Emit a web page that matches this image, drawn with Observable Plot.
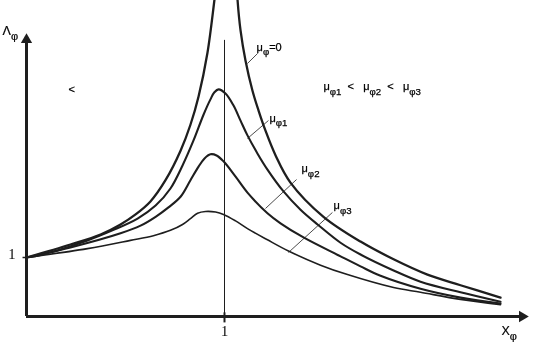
<!DOCTYPE html>
<html>
<head>
<meta charset="utf-8">
<script src="https://cdn.jsdelivr.net/npm/d3@7"></script>
<script src="https://cdn.jsdelivr.net/npm/@observablehq/plot@0.6"></script>
<style>
  html, body { margin: 0; padding: 0; background: #fff; }
  #chart { will-change: transform; background: transparent; width: 537px; height: 360px; }
  #chart svg { background: transparent !important; }
  svg text { white-space: pre; }
</style>
</head>
<body>
<div id="chart"></div>
<script>
// ---- data (X in units of the "1" tick, Y in units of the "1" tick)
const mu0LeftX  = [0, 0.222, 0.374, 0.475, 0.551, 0.626, 0.702, 0.778, 0.828, 0.869, 0.914, 0.949, 0.965];
const mu0LeftY  = [1.0, 1.22, 1.39, 1.56, 1.73, 1.95, 2.31, 2.81, 3.25, 3.73, 4.47, 5.36, 5.80];
const mu0RightX = [1.061, 1.066, 1.081, 1.106, 1.141, 1.172, 1.207, 1.258, 1.333, 1.500, 1.687, 1.854, 2.025, 2.192, 2.394];
const mu0RightY = [5.70, 5.36, 4.85, 4.34, 3.83, 3.49, 3.15, 2.73, 2.27, 1.69, 1.27, 0.97, 0.71, 0.53, 0.32];
const mu1X = [0, 0.056, 0.308, 0.434, 0.561, 0.652, 0.727, 0.788, 0.843, 0.894, 0.929, 0.949, 0.970, 1.005, 1.045, 1.081, 1.116, 1.167, 1.217, 1.298, 1.384, 1.470, 1.586, 1.687, 1.854, 1.990, 2.192, 2.394];
const mu1Y = [1.0, 1.03, 1.29, 1.46, 1.66, 1.88, 2.17, 2.56, 2.98, 3.42, 3.68, 3.80, 3.85, 3.78, 3.58, 3.32, 3.07, 2.76, 2.49, 2.12, 1.81, 1.56, 1.25, 1.05, 0.78, 0.59, 0.41, 0.25];
const mu2X = [0, 0.222, 0.475, 0.576, 0.652, 0.717, 0.778, 0.828, 0.869, 0.899, 0.929, 0.960, 0.995, 1.056, 1.116, 1.217, 1.283, 1.399, 1.586, 1.687, 1.788, 1.990, 2.192, 2.394];
const mu2Y = [1.0, 1.17, 1.41, 1.54, 1.69, 1.85, 2.03, 2.31, 2.54, 2.68, 2.75, 2.73, 2.63, 2.37, 2.10, 1.75, 1.58, 1.34, 1.02, 0.85, 0.69, 0.47, 0.32, 0.22];
const mu3X = [0, 0.308, 0.525, 0.641, 0.727, 0.788, 0.828, 0.864, 0.904, 0.955, 0.995, 1.056, 1.116, 1.217, 1.323, 1.485, 1.621, 1.854, 1.990, 2.192, 2.394];
const mu3Y = [1.0, 1.15, 1.29, 1.37, 1.46, 1.56, 1.66, 1.75, 1.78, 1.77, 1.73, 1.62, 1.49, 1.30, 1.11, 0.87, 0.71, 0.49, 0.41, 0.29, 0.20];

const curveLabels = [
  {x: 1.162, y: 4.508, t: "μ_{φ}=0"},
  {x: 1.227, y: 3.305, t: "μ_{φ1}"},
  {x: 1.389, y: 2.441, t: "μ_{φ2}"},
  {x: 1.551, y: 1.814, t: "μ_{φ3}"},
  {x: 1.500, y: 3.831, t: "μ_{φ1}\u00a0\u00a0<\u00a0\u00a0\u00a0μ_{φ2}\u00a0\u00a0<\u00a0\u00a0\u00a0μ_{φ3}"},
  {x: 0.212, y: 3.780, t: "<"}
];
const axisNames = [
  {x: -0.121, y: 4.763, t: "Λ_{φ}"},
  {x: 2.399, y: -0.322, t: "X_{φ}"}
];
const leaders = [
  {x1: 1.116, y1: 4.288, x2: 1.167, y2: 4.458},
  {x1: 1.116, y1: 3.017, x2: 1.222, y2: 3.322},
  {x1: 1.207, y1: 1.831, x2: 1.364, y2: 2.322},
  {x1: 1.323, y1: 1.085, x2: 1.545, y2: 1.763}
];
const tickValue = [1];
const xAxisEnd = 2.49, xArrowCentre = 2.504;
const yAxisEnd = 4.63, yArrowCentre = 4.692;
const refLineTop = 4.68;

const toRows = (xs, ys) => xs.map((x, i) => ({x, y: ys[i]}));
const ink = "#1e1e1e";
const textInk = "#000";
const curve = "catmull-rom";

const chart = Plot.plot({
  width: 537,
  height: 360,
  marginLeft: 26,
  marginRight: 0,
  marginTop: 0,
  marginBottom: 44,
  x: {domain: [0, 511 / 198], axis: null},
  y: {domain: [0, 316 / 59], axis: null},
  style: {background: "transparent", fontFamily: "'Liberation Sans', Arial, sans-serif", overflow: "visible"},
  marks: [
    // reference vertical line at X = 1
    Plot.ruleX(tickValue, {y1: 0, y2: refLineTop, stroke: ink, strokeWidth: 1}),
    // curves
    Plot.line(toRows(mu3X, mu3Y), {x: "x", y: "y", curve, stroke: ink, strokeWidth: 1.6, clip: true}),
    Plot.line(toRows(mu2X, mu2Y), {x: "x", y: "y", curve, stroke: ink, strokeWidth: 2.1, clip: true}),
    Plot.line(toRows(mu1X, mu1Y), {x: "x", y: "y", curve, stroke: ink, strokeWidth: 2.1, clip: true}),
    Plot.line(toRows(mu0LeftX, mu0LeftY), {x: "x", y: "y", curve, stroke: ink, strokeWidth: 2.3, clip: true}),
    Plot.line(toRows(mu0RightX, mu0RightY), {x: "x", y: "y", curve, stroke: ink, strokeWidth: 2.3, clip: true}),
    // leader lines
    Plot.link(leaders, {x1: "x1", y1: "y1", x2: "x2", y2: "y2", stroke: ink, strokeWidth: 0.8}),
    // axes
    Plot.ruleY([0], {x1: 0, x2: xAxisEnd, stroke: ink, strokeWidth: 3}),
    Plot.ruleX([0], {y1: 0, y2: yAxisEnd, stroke: ink, strokeWidth: 3}),
    Plot.dot([{x: 0, y: yArrowCentre}], {x: "x", y: "y", symbol: "triangle", r: 4.2, fill: ink, stroke: null}),
    Plot.dot([{x: xArrowCentre, y: 0}], {x: "x", y: "y", symbol: "triangle", r: 4.2, rotate: 90, fill: ink, stroke: null}),
    // ticks
    Plot.link(tickValue.map(v => ({v})), {x1: "v", x2: "v", y1: 0.07, y2: -0.1, stroke: ink, strokeWidth: 2}),
    Plot.link(tickValue.map(v => ({v})), {x1: -0.02, x2: 0, y1: "v", y2: "v", stroke: ink, strokeWidth: 1.5}),
    Plot.text(tickValue.map(v => ({v})), {x: 0, y: "v", text: d => String(d.v), dx: -11, dy: 1, textAnchor: "end", lineAnchor: "bottom", fontFamily: "'Liberation Serif', 'Times New Roman', serif", fontSize: 14.5, fill: textInk}),
    Plot.text(tickValue.map(v => ({v})), {x: "v", y: 0, text: d => String(d.v), dy: 9, textAnchor: "middle", lineAnchor: "top", fontFamily: "'Liberation Serif', 'Times New Roman', serif", fontSize: 14.5, fill: textInk}),
    // labels
    Plot.text(curveLabels, {x: "x", y: "y", text: "t", textAnchor: "start", lineAnchor: "bottom", fontSize: 11, fill: textInk, stroke: textInk, strokeWidth: 0.25}),
    Plot.text(axisNames, {x: "x", y: "y", text: "t", textAnchor: "start", lineAnchor: "bottom", fontSize: 12.5, fill: textInk, stroke: textInk, strokeWidth: 0.2})
  ]
});

// turn "_{...}" into lowered, smaller tspans
const SHIFT = 4.5;
d3.select(chart).selectAll("text").each(function () {
  const s = this.textContent;
  if (!s.includes("_{")) return;
  const el = d3.select(this);
  const size = parseFloat(el.attr("font-size") || this.parentNode.getAttribute("font-size")) || 11;
  el.text(null);
  const re = /_\{([^}]*)\}/g;
  let last = 0, m, lowered = false;
  while ((m = re.exec(s))) {
    if (m.index > last) {
      el.append("tspan").attr("dy", lowered ? -SHIFT : 0).text(s.slice(last, m.index));
      lowered = false;
    }
    el.append("tspan").attr("dy", lowered ? 0 : SHIFT).attr("font-size", size * 0.88).text(m[1]);
    lowered = true;
    last = re.lastIndex;
  }
  if (last < s.length) el.append("tspan").attr("dy", lowered ? -SHIFT : 0).text(s.slice(last));
});

document.getElementById("chart").appendChild(chart);
</script>
</body>
</html>
